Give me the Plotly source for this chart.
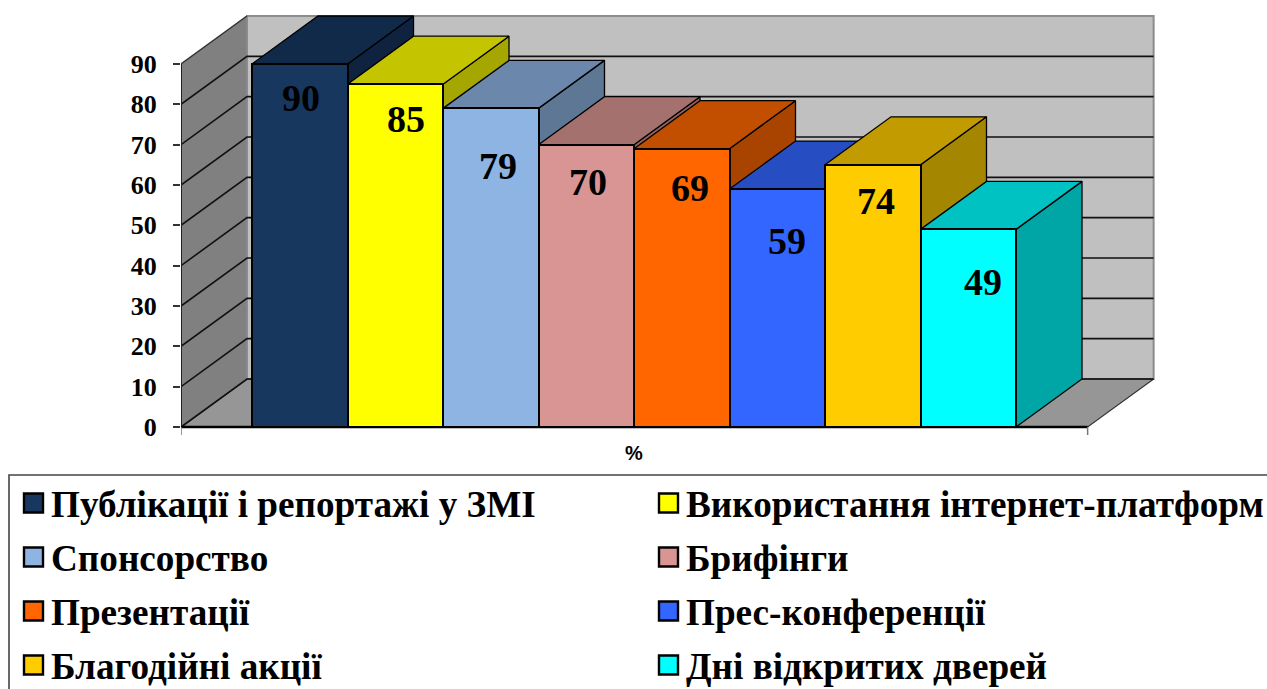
import plotly.graph_objects as go

# ---- data ----
categories = ["Публікації і репортажі у ЗМІ", "Використання інтернет-платформ", "Спонсорство", "Брифінги",
              "Презентації", "Прес-конференції", "Благодійні акції", "Дні відкритих дверей"]
bar_heights = [90, 85, 79, 70, 69, 59, 65, 49]
bar_labels = ["90", "85", "79", "70", "69", "59", "74", "49"]
y_ticks = [0, 10, 20, 30, 40, 50, 60, 70, 80, 90]

# ---- style ----
front_colors = ["#17375e", "#ffff00", "#8db4e2", "#d99594", "#ff6600", "#3366ff", "#ffcc00", "#00ffff"]
top_colors = ["#122a4a", "#c4c400", "#6b88ac", "#a5716e", "#c24e00", "#274dc2", "#c29b00", "#00c2c2"]
side_colors = ["#0f2340", "#a6a600", "#5d7795", "#8f6260", "#a84400", "#2243aa", "#a48600", "#00a6a6"]
label_dx = [0, 10, 6, 1, 7, 9, 2, 14]        # label offset from bar centre, px
label_dy = [34, 35, 58, 37, 39, 52, 36, 53]  # label offset below bar top, px

W, H = 1267, 689
L, R, T, B = 181, 107, 10, 254
X_UNIT = 95.5
Y_UNIT = (427 - 64) / 90
XMIN = -0.5 - 71 / X_UNIT
XMAX = XMIN + (W - L - R) / X_UNIT
YMIN = -8 / Y_UNIT
YMAX = YMIN + (H - T - B) / Y_UNIT
XFRONT = 8.25                # right end of the floor at the front
DX, DY = 66 / X_UNIT, 48 / Y_UNIT   # depth of the 3D projection
SERIF = "Liberation Serif"
ARIAL = "Liberation Sans"
F_SIZE_LEGEND = 37.2


def paper_x(px):
    return (px - L) / (W - L - R)


def paper_y(py):
    return 1 - (py - T) / (H - T - B)


fig = go.Figure()


def poly(xs, ys, fill, line="#000000", width=1.3):
    fig.add_trace(go.Scatter(x=xs, y=ys, mode="lines", fill="toself", fillcolor=fill,
                             line=dict(color=line, width=width), hoverinfo="skip", showlegend=False))


def seg(xs, ys, color="#111111", width=1.6):
    fig.add_trace(go.Scatter(x=xs, y=ys, mode="lines", line=dict(color=color, width=width),
                             hoverinfo="skip", showlegend=False))


top = y_ticks[-1]
# walls and floor
poly([XMIN + DX, XFRONT + DX, XFRONT + DX, XMIN + DX, XMIN + DX], [DY, DY, top + DY, top + DY, DY],
     "#c0c0c0", "#8c8c8c", 2)
poly([XMIN, XMIN + DX, XMIN + DX, XMIN, XMIN], [0, DY, top + DY, top, 0], "#808080", "#8c8c8c", 1.5)
poly([XMIN, XMIN + DX, XFRONT + DX, XFRONT, XMIN], [0, DY, DY, 0, 0], "#969696", "#333333", 1.2)
# gridlines
for v in y_ticks:
    if v == top:
        seg([XMIN, XMIN + DX], [v, v + DY], "#333333", 1.4)
        continue
    seg([XMIN, XMIN + DX, XFRONT + DX], [v, v + DY, v + DY])
# left edge of the side wall and bottom axis
seg([XMIN, XMIN], [0, top], "#222222", 2)
seg([XMIN, XFRONT], [0, 0], "#000000", 2.4)
seg([XFRONT, XFRONT], [0, YMIN], "#777777", 1.5)
seg([XMIN, XMIN], [0, YMIN], "#777777", 1.5)

# top and side faces, left to right
for i, h in enumerate(bar_heights):
    l, r = i - 0.5, i + 0.5
    poly([r, r + DX, r + DX, r, r], [0, DY, h + DY, h, 0], side_colors[i])
    poly([l, l + DX, r + DX, r, l], [h, h + DY, h + DY, h, h], top_colors[i])

# front faces on an overlaid pair of axes, so that they cover all depth faces
fig.add_trace(go.Bar(x=list(range(len(categories))), y=bar_heights, width=1, xaxis="x2", yaxis="y2",
                     marker=dict(color=front_colors, line=dict(color="#000000", width=2)),
                     customdata=categories, hovertemplate="%{customdata}: %{y}<extra></extra>",
                     showlegend=False))

annotations = []
for i, (h, lab) in enumerate(zip(bar_heights, bar_labels)):
    annotations.append(dict(x=i, y=h, xref="x2", yref="y2", text=f"<b>{lab}</b>", showarrow=False,
                            xshift=label_dx[i] + 1, yshift=-label_dy[i], xanchor="center", yanchor="middle",
                            font=dict(family=SERIF, size=38, color="#000000")))
annotations.append(dict(x=paper_x(634), y=paper_y(453), xref="paper", yref="paper", text="<b>%</b>",
                        showarrow=False, xanchor="center", yanchor="middle",
                        font=dict(family=ARIAL, size=20, color="#000000")))

# legend box
shapes = [dict(type="path", xref="paper", yref="paper",
               path=f"M {paper_x(9)} {paper_y(H + 5)} L {paper_x(9)} {paper_y(475)} L {paper_x(W + 5)} {paper_y(475)}",
               line=dict(color="#444444", width=1.6))]
col_swatch = [24, 659]
col_text = [49, 684]
row_y = [503, 557, 611, 665]
for i, name in enumerate(categories):
    c, r = i % 2, i // 2
    x0, y0 = col_swatch[c], row_y[r]
    shapes.append(dict(type="rect", xref="paper", yref="paper",
                       x0=paper_x(x0), x1=paper_x(x0 + 19), y0=paper_y(y0 - 9.5), y1=paper_y(y0 + 9.5),
                       fillcolor=front_colors[i], line=dict(color="#000000", width=2.4)))
    annotations.append(dict(x=paper_x(col_text[c]), y=paper_y(y0 + 1), xref="paper", yref="paper",
                            text=f"<b>{name}</b>", showarrow=False, xanchor="left", yanchor="middle",
                            font=dict(family=SERIF, size=F_SIZE_LEGEND, color="#000000")))

axis_common = dict(showgrid=False, zeroline=False, fixedrange=True)
fig.update_layout(
    width=W, height=H, margin=dict(l=L, r=R, t=T, b=B), paper_bgcolor="#ffffff", plot_bgcolor="#ffffff",
    showlegend=False, bargap=0, annotations=annotations, shapes=shapes,
    xaxis=dict(range=[XMIN, XMAX], visible=False, **axis_common),
    yaxis=dict(range=[YMIN, YMAX], tickvals=y_ticks, ticks="outside", ticklen=7, tickwidth=1.5, tickcolor="#333333",
               showline=False, ticklabelstandoff=11,
               tickfont=dict(family=SERIF, size=26, color="#000000", weight="bold"), **axis_common),
    xaxis2=dict(range=[XMIN, XMAX], visible=False, overlaying="x", **axis_common),
    yaxis2=dict(range=[YMIN, YMAX], visible=False, overlaying="y", **axis_common),
)

fig.write_html("out.html", config={"displayModeBar": False},
               post_script="document.body.style.margin='0';document.body.style.overflow='hidden';")
